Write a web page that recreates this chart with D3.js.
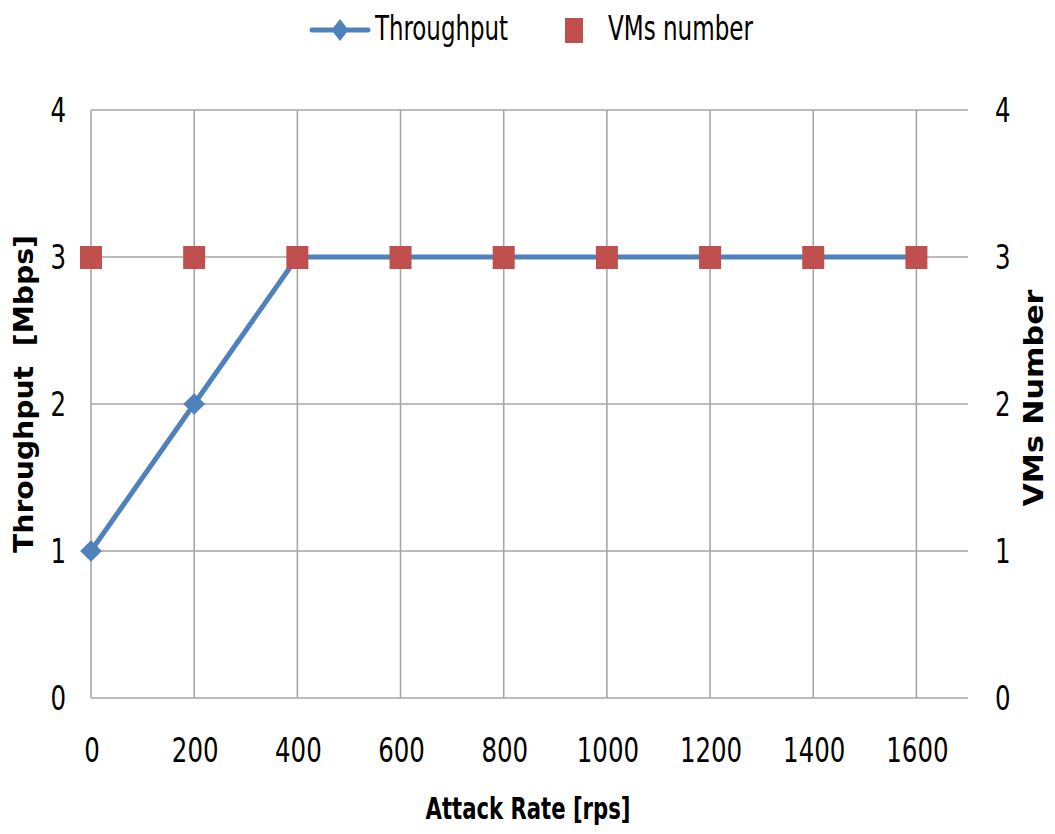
<!DOCTYPE html>
<html>
<head>
<meta charset="utf-8">
<script src="https://cdn.jsdelivr.net/npm/d3@7"></script>
<style>
  html, body { margin: 0; padding: 0; background: #fff; }
  svg { display: block; }
  text { font-family: "Liberation Sans Narrow", "DejaVu Sans Condensed", "Liberation Sans", sans-serif; fill: #000; }
</style>
</head>
<body>
<svg id="chart" width="1055" height="834"></svg>
<script>
// Attack rate (requests per second) on the x axis
const attackRates = [0, 200, 400, 600, 800, 1000, 1200, 1400, 1600];
// Throughput in Mbps (left axis)
const throughput = [1, 2, 3, 3, 3, 3, 3, 3, 3];
// Number of VMs (right axis)
const vmsNumber = [3, 3, 3, 3, 3, 3, 3, 3, 3];
// Tick labels
const xTicks = [0, 200, 400, 600, 800, 1000, 1200, 1400, 1600];
const yTicks = [0, 1, 2, 3, 4];
const seriesNames = ["Throughput", "VMs number"];

const blue = "#4F81BD";
const red = "#C0504D";
const grid = "#A6A6A6";

const svg = d3.select("#chart");
const plotLeft = 91, plotRight = 968, plotTop = 110, plotBottom = 698;

const x = d3.scaleLinear().domain([0, 1700]).range([plotLeft, plotRight]);
const yL = d3.scaleLinear().domain([0, 4]).range([plotBottom, plotTop]);
const yR = d3.scaleLinear().domain([0, 4]).range([plotBottom, plotTop]);

// Horizontal gridlines
svg.append("g").selectAll("line").data(yTicks).join("line")
  .attr("x1", plotLeft).attr("x2", plotRight)
  .attr("y1", d => yL(d)).attr("y2", d => yL(d))
  .attr("stroke", grid).attr("stroke-width", 1.6);

// Vertical gridlines at each attack rate
svg.append("g").selectAll("line").data(xTicks).join("line")
  .attr("x1", d => x(d)).attr("x2", d => x(d))
  .attr("y1", plotTop).attr("y2", plotBottom)
  .attr("stroke", grid).attr("stroke-width", 1.6);

// Narrow glyphs for tick labels
const fs = 34, squeeze = 0.8;

// Left axis labels
svg.append("g").selectAll("text").data(yTicks).join("text")
  .attr("transform", d => `translate(${plotLeft - 25},${yL(d)}) scale(${squeeze},1)`)
  .attr("text-anchor", "end").attr("dominant-baseline", "central")
  .style("font-size", fs + "px").text(d => d);

// Right axis labels
svg.append("g").selectAll("text").data(yTicks).join("text")
  .attr("transform", d => `translate(${plotRight + 27},${yR(d)}) scale(${squeeze},1)`)
  .attr("text-anchor", "start").attr("dominant-baseline", "central")
  .style("font-size", fs + "px").text(d => d);

// Bottom axis labels
svg.append("g").selectAll("text").data(xTicks).join("text")
  .attr("transform", d => `translate(${x(d) + 1},762) scale(${squeeze},1)`)
  .attr("text-anchor", "middle")
  .style("font-size", fs + "px").text(d => d);

// Axis titles
svg.append("text")
  .attr("x", 528).attr("y", 819)
  .attr("text-anchor", "middle")
  .attr("textLength", 205).attr("lengthAdjust", "spacingAndGlyphs")
  .style("font-size", "31px").style("font-weight", "bold")
  .text("Attack Rate [rps]");

svg.append("text")
  .attr("transform", "translate(24,394) rotate(-90)")
  .attr("text-anchor", "middle").attr("dominant-baseline", "central")
  .attr("textLength", 318).attr("lengthAdjust", "spacingAndGlyphs")
  .style("font-size", "26px").style("font-weight", "bold")
  .style("white-space", "pre")
  .text("Throughput  [Mbps]");

svg.append("text")
  .attr("transform", "translate(1034,398) rotate(-90)")
  .attr("text-anchor", "middle").attr("dominant-baseline", "central")
  .attr("textLength", 217).attr("lengthAdjust", "spacingAndGlyphs")
  .style("font-size", "26px").style("font-weight", "bold")
  .text("VMs Number");

// Throughput line
const line = d3.line().x((d, i) => x(attackRates[i])).y(d => yL(d));
svg.append("path").datum(throughput)
  .attr("d", line).attr("fill", "none")
  .attr("stroke", blue).attr("stroke-width", 5)
  .attr("stroke-linejoin", "round");

// Throughput diamond markers
const diamond = d3.symbol().type(d3.symbolDiamond2).size(300);
svg.append("g").selectAll("path").data(throughput).join("path")
  .attr("transform", (d, i) => `translate(${x(attackRates[i])},${yL(d)})`)
  .attr("d", diamond).attr("fill", blue);

// VMs number square markers
const sq = 22;
svg.append("g").selectAll("rect").data(vmsNumber).join("rect")
  .attr("x", (d, i) => x(attackRates[i]) - sq / 2)
  .attr("y", d => yR(d) - sq / 2)
  .attr("width", sq).attr("height", sq + 1)
  .attr("fill", red);

// Legend
const lg = svg.append("g");
lg.append("line").attr("x1", 312).attr("x2", 368).attr("y1", 30).attr("y2", 30)
  .attr("stroke", blue).attr("stroke-width", 5).attr("stroke-linecap", "round");
lg.append("path").attr("transform", "translate(340,30) scale(0.85,1.1)")
  .attr("d", d3.symbol().type(d3.symbolDiamond2).size(260)).attr("fill", blue);
lg.append("text").attr("x", 375).attr("y", 40)
  .attr("textLength", 133).attr("lengthAdjust", "spacingAndGlyphs")
  .style("font-size", "34px").text(seriesNames[0]);
lg.append("rect").attr("x", 565).attr("y", 18).attr("width", 18).attr("height", 25)
  .attr("fill", red);
lg.append("text").attr("x", 608).attr("y", 40)
  .attr("textLength", 145).attr("lengthAdjust", "spacingAndGlyphs")
  .style("font-size", "34px").text(seriesNames[1]);
</script>
</body>
</html>
